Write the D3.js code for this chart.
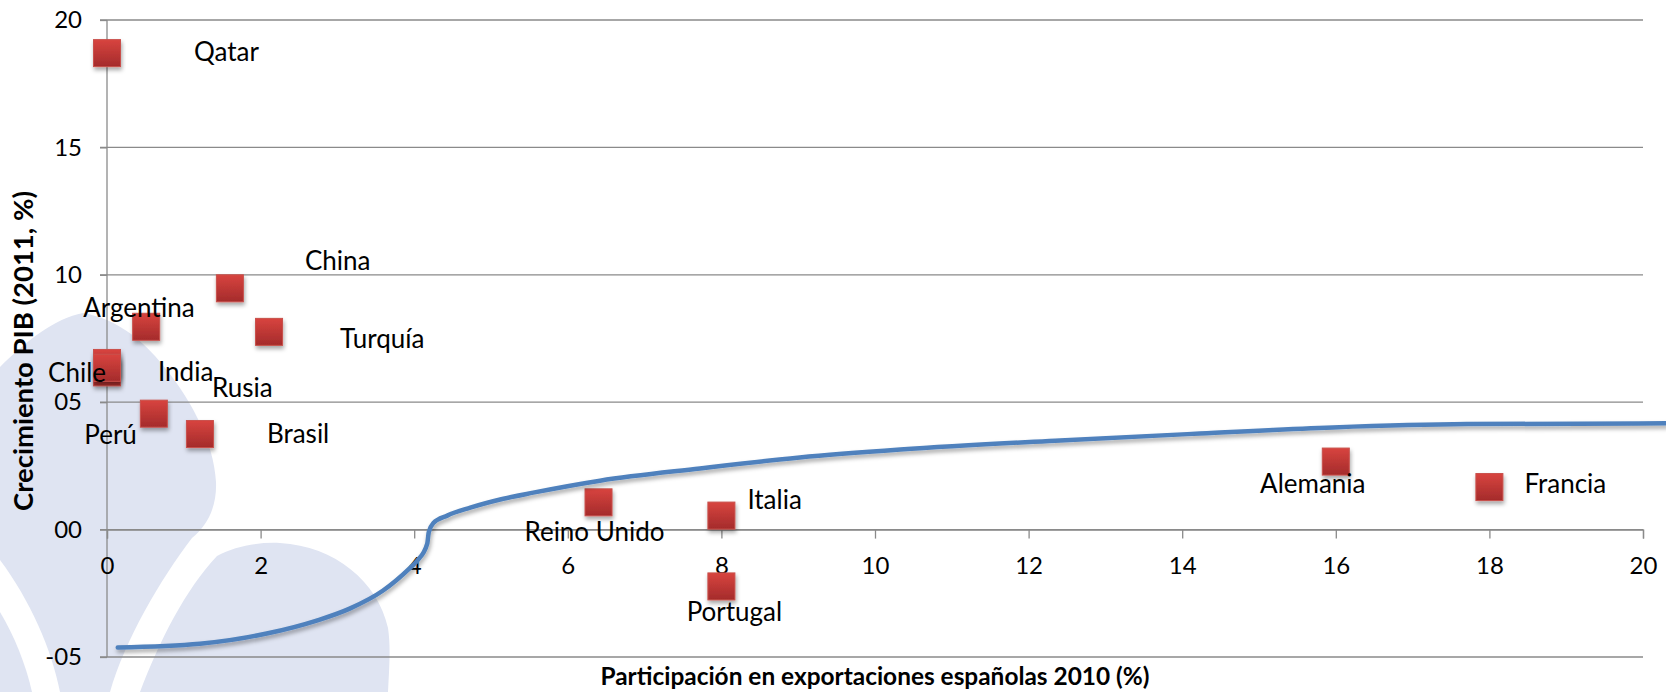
<!DOCTYPE html>
<html>
<head>
<meta charset="utf-8">
<script src="https://cdn.jsdelivr.net/npm/d3@7"></script>
<style>
  body { margin: 0; background: #fff; }
  text { font-family: Lato, "Open Sans", sans-serif; fill: #000; }
</style>
</head>
<body>
<div id="chart"></div>
<script>
// data
var countries = ["Qatar", "China", "Argentina", "Turquía", "Chile", "India", "Rusia",
                 "Perú", "Brasil", "Reino Unido", "Italia", "Portugal", "Alemania", "Francia"];
var exportShare = [0, 1.6, 0.51, 2.11, 0, 0, 0, 0.61, 1.21, 6.4, 8.0, 8.0, 16.0, 18.0];
var gdpGrowth = [18.7, 9.47, 7.96, 7.76, 6.17, 6.54, 6.35, 4.55, 3.75, 1.07, 0.55, -2.23, 2.67, 1.67];

// hand drawn trend curve
var curveX = [0.14, 1.21, 2.08, 2.73, 3.16, 3.59, 3.95, 4.04, 4.17, 4.19, 4.25, 4.43, 4.73, 5.12,
              5.55, 6.42, 7.72, 9.02, 10.33, 12.41, 14.23, 15.96, 17.71, 20.3];
var curveY = [-4.63, -4.48, -4.08, -3.57, -3.1, -2.4, -1.49, -1.22, -0.55, -0.1, 0.26, 0.55, 0.86, 1.18,
              1.45, 1.92, 2.4, 2.83, 3.14, 3.5, 3.77, 4.01, 4.14, 4.17];

var xTicks = [0, 2, 4, 6, 8, 10, 12, 14, 16, 18, 20];
var yTicks = [20, 15, 10, 5, 0, -5];
var yTickLabels = ["20", "15", "10", "05", "00", "-05"];

// label placement relative to each point [dx, dy, anchor]
var labelPos = [[87, -1, "start"], [75, -28, "start"], [-63, -19, "start"], [71, 7, "start"],
                [-1, 0, "end"], [51, 9, "start"], [105, 20, "start"], [-17, 21, "end"],
                [67, 0, "start"], [-4, 29, "middle"], [26, -16, "start"], [13, 25, "middle"],
                [-23, 22, "middle"], [35, -3, "start"]];

var margin = {top: 20, right: 23, bottom: 35, left: 107},
    width = 1666 - margin.left - margin.right,
    height = 692 - margin.top - margin.bottom;

var svgRoot = d3.select("#chart")
  .append("svg")
    .attr("width", 1666)
    .attr("height", 692);

var defs = svgRoot.append("defs");
var grad = defs.append("linearGradient")
  .attr("id", "redFill")
  .attr("x1", 0).attr("y1", 0).attr("x2", 0).attr("y2", 1);
grad.append("stop").attr("offset", "0%").attr("stop-color", "#d8443f");
grad.append("stop").attr("offset", "100%").attr("stop-color", "#a42b2b");

var shadow = defs.append("filter")
  .attr("id", "shadow")
  .attr("x", "-20%").attr("y", "-20%").attr("width", "140%").attr("height", "160%");
shadow.append("feDropShadow")
  .attr("dx", 1).attr("dy", 3).attr("stdDeviation", 2)
  .attr("flood-color", "#000").attr("flood-opacity", 0.35);

// watermark shapes in the background
var wm = svgRoot.append("g").attr("fill", "#dfe4f2");
wm.append("path").attr("d",
  "M83,313 C112,318 135,334 155,356 C190,395 214,442 216,482 C217,506 208,525 192,538 " +
  "C160,580 125,640 110,692 L60,692 C52,650 30,600 0,560 L0,367 C25,342 55,318 83,313 Z");
wm.append("path").attr("d",
  "M0,612 C14,635 26,665 32,692 L0,692 Z");
wm.append("path").attr("d",
  "M217,556 C235,546 258,542 280,543 C335,546 378,582 388,628 C391,648 389,670 388,692 " +
  "L140,692 C160,640 185,590 217,556 Z");

var svg = svgRoot.append("g")
  .attr("transform", "translate(" + margin.left + "," + margin.top + ")");

var x = d3.scaleLinear().domain([0, 20]).range([0, width]);
var y = d3.scaleLinear().domain([-5, 20]).range([height, 0]);

// gridlines
svg.append("g")
  .selectAll("line")
  .data(yTicks)
  .enter()
  .append("line")
    .attr("x1", -7)
    .attr("x2", width)
    .attr("y1", function(d) { return y(d); })
    .attr("y2", function(d) { return y(d); })
    .attr("stroke", "#8a8a8a")
    .attr("stroke-width", 1.3);

// Y axis
var yAxis = svg.append("g")
  .call(d3.axisLeft(y)
    .tickValues(yTicks)
    .tickFormat(function(d, i) { return yTickLabels[i]; })
    .tickSize(7)
    .tickPadding(18));

// X axis at zero
var xAxis = svg.append("g")
  .attr("transform", "translate(0," + y(0) + ")")
  .call(d3.axisBottom(x)
    .tickValues(xTicks)
    .tickFormat(d3.format("d"))
    .tickSize(9)
    .tickSizeOuter(9)
    .tickPadding(18));

svg.selectAll(".domain, .tick line")
  .attr("stroke", "#8a8a8a")
  .attr("stroke-width", 1.3);
yAxis.select(".domain").attr("d", "M0," + y(20) + "V" + y(-5));
svg.selectAll(".tick text")
  .style("font-family", "Lato, 'Open Sans', sans-serif")
  .style("font-size", "24px")
  .attr("fill", "#000");

// markers
var pts = countries.map(function(c, i) {
  return {name: c, x: exportShare[i], y: gdpGrowth[i], lp: labelPos[i]};
});

var size = 27;
svg.append("g")
  .selectAll("rect")
  .data(pts)
  .enter()
  .append("rect")
    .attr("x", function(d) { return x(d.x) - size / 2; })
    .attr("y", function(d) { return y(d.y) - size / 2; })
    .attr("width", size)
    .attr("height", size)
    .attr("fill", "url(#redFill)")
    .attr("stroke", "#c9504b")
    .attr("stroke-width", 1)
    .attr("filter", "url(#shadow)");

// trend curve
var line = d3.line()
  .x(function(d) { return x(d[0]); })
  .y(function(d) { return y(d[1]); })
  .curve(d3.curveMonotoneX);

svg.append("path")
  .datum(curveX.map(function(v, i) { return [v, curveY[i]]; }))
  .attr("d", line)
  .attr("fill", "none")
  .attr("stroke", "#4f81bd")
  .attr("stroke-width", 4.5)
  .attr("stroke-linecap", "round")
  .attr("filter", "url(#shadow)");

// data labels
svg.append("g")
  .selectAll("text")
  .data(pts)
  .enter()
  .append("text")
    .attr("x", function(d) { return x(d.x) + d.lp[0]; })
    .attr("y", function(d) { return y(d.y) + d.lp[1]; })
    .attr("dy", "0.36em")
    .attr("text-anchor", function(d) { return d.lp[2]; })
    .style("font-size", "26px")
    .text(function(d) { return d.name; });

// axis titles
svgRoot.append("text")
  .attr("x", margin.left + width / 2)
  .attr("y", 677)
  .attr("dy", "0.35em")
  .attr("text-anchor", "middle")
  .attr("textLength", 549)
  .attr("lengthAdjust", "spacingAndGlyphs")
  .style("font-size", "24px")
  .style("font-weight", "bold")
  .text("Participación en exportaciones españolas 2010 (%)");

svgRoot.append("text")
  .attr("transform", "translate(24,351)rotate(-90)")
  .attr("dy", "0.35em")
  .attr("text-anchor", "middle")
  .attr("textLength", 320)
  .attr("lengthAdjust", "spacingAndGlyphs")
  .style("font-size", "26px")
  .style("font-weight", "bold")
  .text("Crecimiento PIB (2011, %)");
</script>
</body>
</html>
